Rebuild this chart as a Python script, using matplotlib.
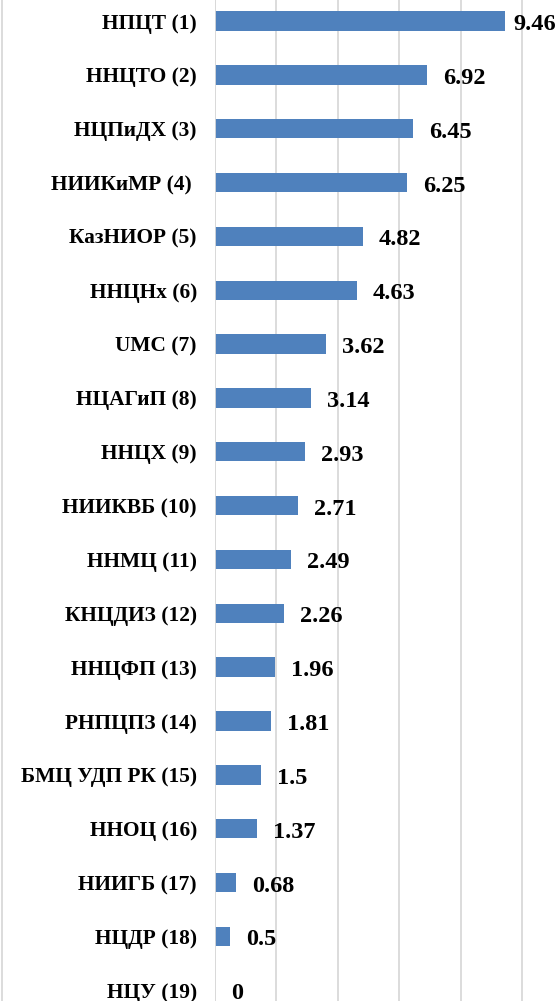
import matplotlib
matplotlib.use("Agg")
import matplotlib.pyplot as plt
from matplotlib.lines import Line2D

categories = ["НПЦТ (1)", "ННЦТО (2)", "НЦПиДХ (3)", "НИИКиМР (4) ", "КазНИОР (5)",
              "ННЦНх (6)", "UMC (7)", "НЦАГиП (8)", "ННЦХ (9)", "НИИКВБ (10)",
              "ННМЦ (11)", "КНЦДИЗ (12)", "ННЦФП (13)", "РНПЦПЗ (14)", "БМЦ УДП РК (15)",
              "ННОЦ (16)", "НИИГБ (17)", "НЦДР (18)", "НЦУ (19)"]
values = [9.46, 6.92, 6.45, 6.25, 4.82, 4.63, 3.62, 3.14, 2.93, 2.71,
          2.49, 2.26, 1.96, 1.81, 1.5, 1.37, 0.68, 0.5, 0]
value_labels = ["9.46", "6.92", "6.45", "6.25", "4.82", "4.63", "3.62", "3.14", "2.93", "2.71",
                "2.49", "2.26", "1.96", "1.81", "1.5", "1.37", "0.68", "0.5", "0"]
x_ticks = [0, 2, 4, 6, 8, 10]

plt.rcParams['font.family'] = ['Liberation Serif', 'DejaVu Serif']

W, H = 560, 1001
fig = plt.figure(figsize=(W / 100, H / 100), dpi=100)
ax = fig.add_axes([215 / W, 0, 1 - 215 / W, 1])

y = list(range(len(categories)))
ax.barh(y, values, height=0.36, color="#4F81BD", zorder=3)

xmax = (560 - 215) / 30.7
ax.set_xlim(0, xmax)
ax.set_ylim(18.2, -0.39)

ax.set_xticks(x_ticks)
ax.xaxis.grid(True, color="#D9D9D9", linewidth=1.3, zorder=0)
ax.tick_params(axis='x', length=0, labelbottom=False)
ax.tick_params(axis='y', length=0, pad=13)
ax.set_yticks(y)
ax.set_yticklabels(categories, fontsize=15.4, fontweight='bold')
for s in ax.spines.values():
    s.set_visible(False)
ax.axvline(0, color="#D9D9D9", linewidth=1.3, zorder=4)

for i, (v, lab) in enumerate(zip(values, value_labels)):
    xpos = min(v + 0.52, 9.72)
    ax.annotate(lab, (xpos, i), xytext=(0, -2.5), textcoords='offset points',
                ha='left', va='center', fontsize=17.5, fontweight='bold', zorder=5)

fig.add_artist(Line2D([2 / W, 2 / W], [0, 1], transform=fig.transFigure,
                      color="#D9D9D9", linewidth=1.3))

fig.savefig("out.png", dpi=100)
